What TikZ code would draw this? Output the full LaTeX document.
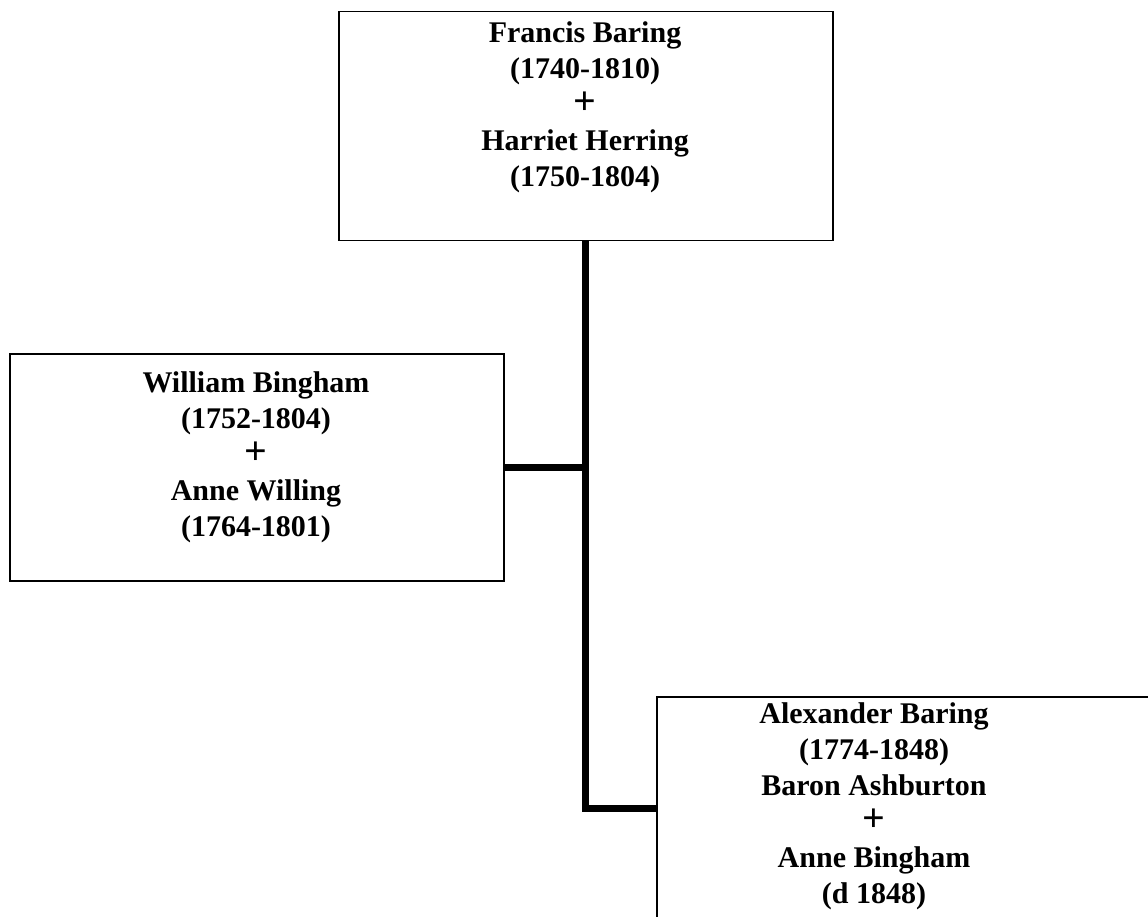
\documentclass[tikz,border=0pt]{standalone}
\usepackage{fontspec}
\setmainfont{Liberation Serif}
\newcommand{\bigplus}{{\fontsize{40}{36}\selectfont +}}
\begin{document}
\begin{tikzpicture}[x=1pt,y=-1pt,
  box/.style={draw=black, line width=1.5pt, anchor=north west, inner sep=0pt, minimum width=494pt},
  txt/.style={align=center, font=\fontsize{30}{36}\selectfont\bfseries, inner sep=0pt, anchor=north},
  link/.style={line width=7pt}]
\useasboundingbox (0,0) rectangle (1148,917);
\clip (0,0) rectangle (1148,917);
\node[box, minimum height=229pt] (fb) at (338,11) {};
\node[box, minimum height=227pt] (wb) at (9,353) {};
\node[box, minimum height=224pt] (ab) at (656,696) {};
\coordinate (j1) at (fb.south |- wb.east);
\coordinate (j2) at (fb.south |- ab.west);
\draw[link] (fb.south) -- (j2) -- (ab.west);
\draw[link] (wb.east) -- (j1);
\node[txt] (fbt) at (585,21) {Francis Baring\\(1740-1810)\\\bigplus\\Harriet Herring\\(1750-1804)};
\node[txt] (wbt) at (256,371) {William Bingham\\(1752-1804)\\\bigplus\\Anne Willing\\(1764-1801)};
\node[txt] (abt) at (874,702) {Alexander Baring\\(1774-1848)\\Baron Ashburton\\\bigplus\\Anne Bingham\\(d 1848)};
\end{tikzpicture}
\end{document}
